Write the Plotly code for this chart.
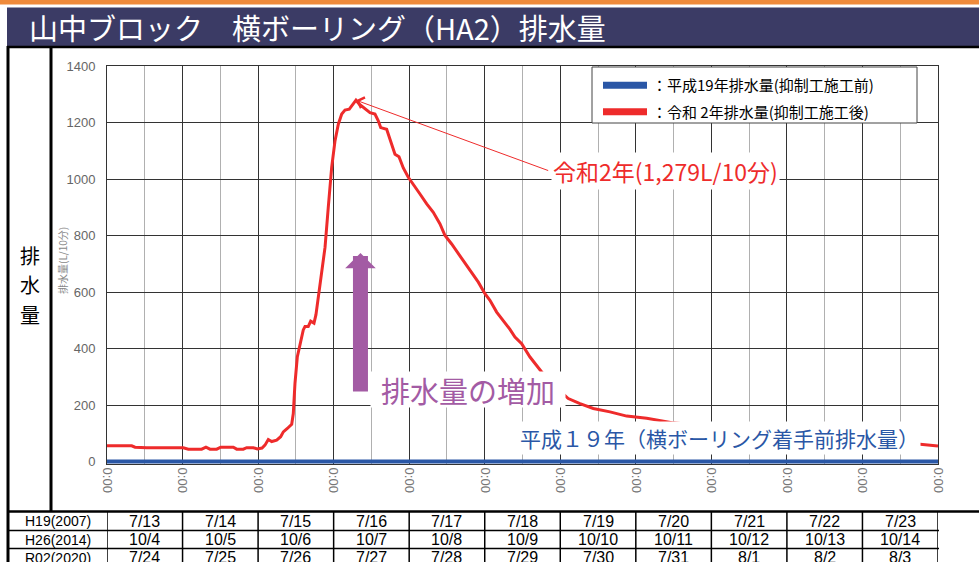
import plotly.graph_objects as go

# ---------------- data ----------------
# time axis: days elapsed from the first 0:00 tick (H19 7/13 0:00)
r02_days = [0.0, 0.327, 0.371, 0.525, 1.010, 1.076, 1.253, 1.310, 1.363, 1.452,
            1.505, 1.672, 1.717, 1.804, 1.849, 1.937, 1.989, 2.052, 2.091, 2.135,
            2.180, 2.246, 2.299, 2.334, 2.387, 2.445, 2.466, 2.488, 2.519, 2.555,
            2.598, 2.621, 2.664, 2.696, 2.740, 2.766, 2.797, 2.842, 2.886, 2.929,
            2.974, 3.018, 3.062, 3.107, 3.150, 3.207, 3.252, 3.296, 3.340, 3.385,
            3.428, 3.481, 3.547, 3.591, 3.623, 3.702, 3.746, 3.812, 3.865, 3.922,
            3.988, 4.054, 4.143, 4.232, 4.319, 4.408, 4.474, 4.562, 4.672, 4.739,
            4.827, 4.915, 5.003, 5.069, 5.158, 5.245, 5.334, 5.400, 5.489, 5.599,
            5.688, 5.754, 5.930, 6.106, 6.261, 6.437, 6.658, 6.879, 7.144, 7.320,
            7.496, 7.849, 8.511, 9.173, 9.834, 10.496, 10.761, 10.937, 11.0]
r02_flow = [56, 56, 51, 49, 49, 44, 44, 51, 44, 44,
            51, 51, 44, 44, 49, 49, 45, 48, 58, 78,
            71, 76, 88, 105, 117, 132, 170, 276, 370, 417,
            466, 478, 478, 497, 490, 520, 580, 665, 758, 900,
            1041, 1135, 1194, 1230, 1244, 1247, 1265, 1279, 1265, 1255,
            1244, 1235, 1230, 1206, 1182, 1176, 1141, 1088, 1079, 1039,
            1006, 982, 947, 912, 882, 841, 800, 770, 729, 700,
            670, 635, 594, 571, 529, 500, 468, 441, 417, 370,
            341, 317, 265, 223, 205, 188, 176, 161, 153, 145,
            137, 128, 112, 96, 82, 68, 62, 56, 55]
h19_days = [0.0, 11.0]
h19_flow = [0, 0]

peak_day = 3.296
peak_value = 1279

y_ticks = [0, 200, 400, 600, 800, 1000, 1200, 1400]
x_ticks = list(range(12))
x_tick_text = ["0:00"] * 12

row_labels = ["H19(2007)", "H26(2014)", "R02(2020)"]
dates_h19 = ["7/13", "7/14", "7/15", "7/16", "7/17", "7/18", "7/19", "7/20", "7/21", "7/22", "7/23"]
dates_h26 = ["10/4", "10/5", "10/6", "10/7", "10/8", "10/9", "10/10", "10/11", "10/12", "10/13", "10/14"]
dates_r02 = ["7/24", "7/25", "7/26", "7/27", "7/28", "7/29", "7/30", "7/31", "8/1", "8/2", "8/3"]

title_text = "山中ブロック　横ボーリング（HA2）排水量"
side_label_chars = ["排", "水", "量"]
name_h19 = "：平成19年排水量(抑制工施工前)"
name_r02 = "：令和 2年排水量(抑制工施工後)"
peak_label = "令和2年(1,279L/10分)"
increase_label = "排水量の増加"
h19_label = "平成１９年（横ボーリング着手前排水量）"

# ---------------- styling / geometry ----------------
W, H = 979, 562
L, R, T, B = 107, 41, 66, 98
PW, PH = W - L - R, H - T - B
RED = "#ee2b2b"
BLUE = "#2a57a6"
PURPLE = "#a35ba4"
NAVY = "#3b3b65"
ORANGE = "#ef8a3b"
JP = "Noto Sans CJK JP"
LAT = "Liberation Sans"


def px(x):
    return (x - L) / PW


def py(y):
    return (H - B - y) / PH


fig = go.Figure()
fig.add_trace(go.Scatter(x=h19_days, y=h19_flow, mode="lines",
                         line=dict(color=BLUE, width=4), showlegend=False, hoverinfo="skip"))
fig.add_trace(go.Scatter(x=r02_days, y=r02_flow, mode="lines",
                         line=dict(color=RED, width=3), showlegend=False, hoverinfo="skip"))
# legend entries
fig.add_trace(go.Scatter(x=[None], y=[None], mode="lines", name=name_h19, legendgroup="a",
                         line=dict(color=BLUE, width=7)))
fig.add_trace(go.Scatter(x=[None], y=[None], mode="lines", name=name_r02, legendgroup="b",
                         line=dict(color=RED, width=7)))

shapes = []
# header
shapes.append(dict(type="rect", xref="paper", yref="paper", x0=px(0), x1=px(W), y0=py(0), y1=py(4.5),
                   fillcolor=ORANGE, line=dict(width=0), layer="below"))
shapes.append(dict(type="rect", xref="paper", yref="paper", x0=px(7), x1=px(W), y0=py(7.5), y1=py(46),
                   fillcolor=NAVY, line=dict(width=0), layer="below"))
shapes.append(dict(type="line", xref="paper", yref="paper", x0=px(7), x1=px(W), y0=py(47), y1=py(47),
                   line=dict(color="black", width=2.5)))
# left frame
shapes.append(dict(type="line", xref="paper", yref="paper", x0=px(8), x1=px(8), y0=py(46), y1=py(H + 2),
                   line=dict(color="black", width=3)))
shapes.append(dict(type="line", xref="paper", yref="paper", x0=px(51), x1=px(51), y0=py(46), y1=py(511),
                   line=dict(color="black", width=3)))
# legend box
shapes.append(dict(type="rect", xref="paper", yref="paper", x0=px(592), x1=px(917), y0=py(67), y1=py(123),
                   fillcolor="white", line=dict(color="#444", width=1), layer="above"))
# table
shapes.append(dict(type="line", xref="paper", yref="paper", x0=px(7), x1=px(W), y0=py(511.5), y1=py(511.5),
                   line=dict(color="black", width=2.5)))
for yy in (530.5, 548.5):
    shapes.append(dict(type="line", xref="paper", yref="paper", x0=px(8), x1=px(939), y0=py(yy), y1=py(yy),
                       line=dict(color="black", width=1.5)))
for k in x_ticks:
    shapes.append(dict(type="line", xref="x", yref="paper", x0=k, x1=k, y0=py(511), y1=py(H + 2),
                       line=dict(color="black", width=1.5)))

annotations = []
annotations.append(dict(text=title_text, xref="paper", yref="paper", x=px(27), y=py(27),
                        xanchor="left", yanchor="middle", showarrow=False,
                        font=dict(family=JP, size=29, color="white")))
for ch, yy in zip(side_label_chars, (255, 284.5, 314)):
    annotations.append(dict(text=ch, xref="paper", yref="paper", x=px(30), y=py(yy),
                            xanchor="center", yanchor="middle", showarrow=False, borderpad=0,
                            font=dict(family=JP, size=20, color="black")))
annotations.append(dict(text="排水量(L/10分)", xref="paper", yref="paper", x=px(62), y=py(261),
                        xanchor="center", yanchor="middle", textangle=-90, showarrow=False,
                        font=dict(family=JP, size=10, color="#888")))
# table text
row_y = [521, 539.5, 557.5]
for lab, yy in zip(row_labels, row_y):
    annotations.append(dict(text=lab, xref="paper", yref="paper", x=px(57.5), y=py(yy),
                            xanchor="center", yanchor="middle", showarrow=False, borderpad=0,
                            font=dict(family=LAT, size=14, color="black")))
for row, yy in zip([dates_h19, dates_h26, dates_r02], row_y):
    for k, d in enumerate(row):
        annotations.append(dict(text=d, xref="x", yref="paper", x=k + 0.5, y=py(yy),
                                xanchor="center", yanchor="middle", showarrow=False, borderpad=0,
                                font=dict(family=LAT, size=16, color="black")))
# peak callout
annotations.append(dict(text="", x=peak_day, y=peak_value, xref="x", yref="y",
                        ax=5.86, ay=1028, axref="x", ayref="y", showarrow=True,
                        arrowhead=4, arrowsize=2.2, arrowwidth=1, arrowcolor=RED))
annotations.append(dict(text=peak_label, x=5.88, y=1028, xref="x", yref="y",
                        xanchor="left", yanchor="middle", showarrow=False, bgcolor="white",
                        font=dict(family=JP, size=23, color=RED)))
# increase arrow + label
annotations.append(dict(text="", x=3.355, y=738, xref="x", yref="y",
                        ax=3.355, ay=243, axref="x", ayref="y", showarrow=True,
                        arrowhead=1, arrowsize=0.34, arrowwidth=15, arrowcolor=PURPLE))
annotations.append(dict(text=increase_label, x=px(468), y=py(389), xref="paper", yref="paper",
                        xanchor="center", yanchor="middle", showarrow=False, bgcolor="white",
                        width=192, height=33,
                        font=dict(family=JP, size=29, color=PURPLE)))
annotations.append(dict(text=h19_label, x=px(719), y=py(437.5), xref="paper", yref="paper",
                        xanchor="center", yanchor="middle", showarrow=False, bgcolor="white",
                        font=dict(family=JP, size=21, color=BLUE)))

fig.update_layout(
    width=W, height=H,
    margin=dict(l=L, r=R, t=T, b=B, pad=0),
    paper_bgcolor="white", plot_bgcolor="white",
    font=dict(family=JP, color="black"),
    showlegend=True,
    legend=dict(x=px(598), y=py(69), xanchor="left", yanchor="top",
                bgcolor="rgba(0,0,0,0)", borderwidth=0,
                font=dict(family=JP, size=15, color="black"),
                tracegroupgap=4, itemwidth=44),
    xaxis=dict(range=[0, 11], tickmode="array", tickvals=x_ticks, ticktext=x_tick_text,
               tickangle=90, tickfont=dict(family=LAT, size=13, color="#777"),
               showgrid=True, gridcolor="#333", gridwidth=1, zeroline=False,
               showline=True, mirror=True, linecolor="#333", linewidth=1,
               minor=dict(tickmode="linear", tick0=0.5, dtick=1, showgrid=True,
                          gridcolor="#b0b0b0", gridwidth=1.3),
               fixedrange=True),
    yaxis=dict(range=[-8.6, 1400], tickmode="array", tickvals=y_ticks,
               tickfont=dict(family=LAT, size=13, color="#666"),
               showgrid=True, gridcolor="#333", gridwidth=1, zeroline=False,
               ticks="outside", ticklen=8, tickcolor="rgba(0,0,0,0)",
               showline=True, mirror=True, linecolor="#333", linewidth=1,
               fixedrange=True),
    shapes=shapes,
    annotations=annotations,
)

fig.write_html("out.html", config={"displayModeBar": False},
               post_script="document.body.style.margin='0';document.body.style.padding='0';")
